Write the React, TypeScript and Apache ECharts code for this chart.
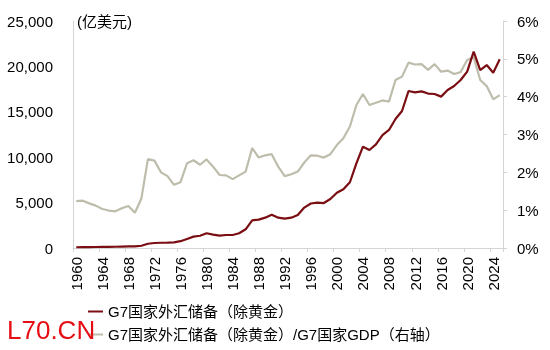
import React, { useEffect, useRef } from "react";
import * as echarts from "echarts";

const years: string[] = [];
for (let y = 1960; y <= 2025; y++) years.push(String(y));

const reserves = [
  80, 90, 100, 110, 120, 130, 140, 160, 180, 170,
  250, 470, 550, 580, 590, 620, 750, 1000, 1250, 1350,
  1620, 1480, 1360, 1430, 1430, 1620, 2060, 3050, 3120, 3340,
  3670, 3340, 3230, 3340, 3630, 4450, 4900, 4990, 4950, 5400,
  6090, 6460, 7240, 9330, 11160, 10790, 11420, 12440, 13000, 14210,
  15090, 17290, 17140, 17250, 17010, 16960, 16670, 17400, 17840, 18500,
  19420, 21620, 19600, 20150, 19310, 20780,
];

const ratio = [
  1.24, 1.25, 1.18, 1.12, 1.03, 0.99, 0.97, 1.05, 1.11, 0.93,
  1.31, 2.35, 2.31, 2.0, 1.9, 1.67, 1.74, 2.24, 2.32, 2.2,
  2.34, 2.15, 1.93, 1.92, 1.82, 1.92, 2.02, 2.64, 2.39, 2.45,
  2.48, 2.15, 1.9, 1.95, 2.02, 2.26, 2.45, 2.44, 2.39, 2.48,
  2.72, 2.9, 3.21, 3.78, 4.07, 3.78, 3.84, 3.9, 3.87, 4.44,
  4.53, 4.9, 4.85, 4.86, 4.71, 4.86, 4.66, 4.69, 4.6, 4.65,
  4.97, 5.04, 4.44, 4.28, 3.93, 4.04,
];

const seriesNames = [
  "G7国家外汇储备（除黄金）",
  "G7国家外汇储备（除黄金）/G7国家GDP（右轴）",
];
const unitLabel = "(亿美元)";
const watermark = "L70.CN";

const FONT = "Arial, 'Liberation Sans', 'Noto Sans CJK SC', sans-serif";
const RED = "#7A0E12";
const GRAY = "#BEBDAC";
const AXIS = "#D4D4D4";

const legendBase = {
  orient: "horizontal",
  left: 88,
  padding: 0,
  itemWidth: 15,
  itemHeight: 2,
  icon: "rect",
  textStyle: { fontSize: 15, color: "#000", fontFamily: FONT },
};

export default function App() {
  const ref = useRef<HTMLDivElement>(null);
  useEffect(() => {
    if (!ref.current) return;
    const chart = echarts.init(ref.current, undefined, { renderer: "svg" });
    chart.setOption({
      animation: false,
      textStyle: { fontFamily: FONT },
      grid: { left: 73, right: 47, top: 21, bottom: 102, containLabel: false },
      legend: [
        { ...legendBase, top: 304, data: [seriesNames[0]] },
        { ...legendBase, top: 327, data: [seriesNames[1]] },
      ],
      xAxis: {
        type: "category",
        data: years,
        boundaryGap: true,
        axisLine: { show: true, lineStyle: { color: AXIS, width: 1 } },
        axisTick: { show: true, interval: 3, length: 4, lineStyle: { color: AXIS } },
        axisLabel: {
          interval: 3,
          rotate: 90,
          margin: 9,
          fontSize: 15,
          color: "#000",
          fontFamily: FONT,
        },
        splitLine: { show: false },
      },
      yAxis: [
        {
          type: "value",
          min: 0,
          max: 25000,
          interval: 5000,
          position: "left",
          axisLine: { show: true, lineStyle: { color: AXIS } },
          axisTick: { show: false },
          splitLine: { show: false },
          axisLabel: {
            margin: 20,
            fontSize: 15,
            color: "#000",
            fontFamily: FONT,
            formatter: (v: number) => v.toLocaleString("en-US"),
          },
        },
        {
          type: "value",
          min: 0,
          max: 6,
          interval: 1,
          position: "right",
          axisLine: { show: true, lineStyle: { color: AXIS } },
          axisTick: { show: true, length: 4, lineStyle: { color: AXIS } },
          splitLine: { show: false },
          axisLabel: {
            margin: 14,
            fontSize: 15,
            color: "#000",
            fontFamily: FONT,
            formatter: "{value}%",
          },
        },
      ],
      series: [
        {
          name: seriesNames[1],
          type: "line",
          yAxisIndex: 1,
          data: ratio,
          showSymbol: false,
          symbol: "none",
          z: 2,
          lineStyle: { color: GRAY, width: 2.2 },
          itemStyle: { color: GRAY },
        },
        {
          name: seriesNames[0],
          type: "line",
          yAxisIndex: 0,
          data: reserves,
          showSymbol: false,
          symbol: "none",
          z: 3,
          lineStyle: { color: RED, width: 2.2 },
          itemStyle: { color: RED },
        },
      ],
      graphic: [
        {
          type: "text",
          left: 77,
          top: 14,
          style: { text: unitLabel, fontSize: 15, fill: "#000", fontFamily: FONT },
        },
        {
          type: "text",
          left: 7,
          top: 317,
          z: 100,
          style: { text: watermark, fontSize: 26, fill: "#E50E14", fontFamily: FONT },
        },
      ],
    });
    return () => chart.dispose();
  }, []);
  return (
    <div
      ref={ref}
      style={{ width: 550, height: 350, position: "fixed", left: 0, top: 0 }}
    />
  );
}
